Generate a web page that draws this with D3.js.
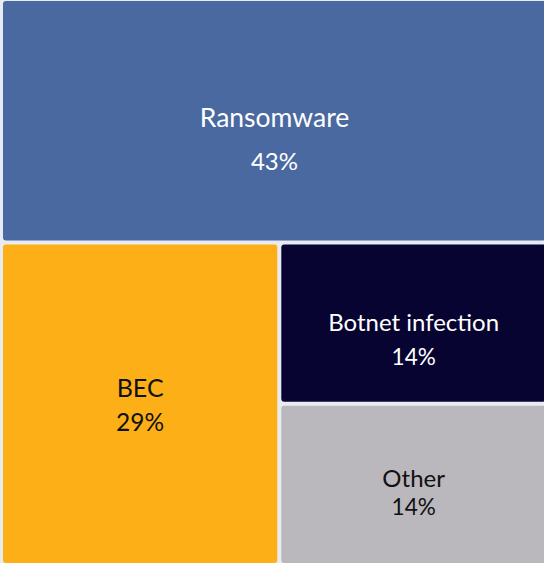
<!DOCTYPE html>
<html>
<head>
<meta charset="utf-8">
<script src="https://cdn.jsdelivr.net/npm/d3@7"></script>
<style>
  body { margin: 0; background: #e8ebf2; }
  svg { display: block; }
</style>
</head>
<body>
<script>
const m = { width: 544, height: 563 }

// share of incidents by type
const categories = ['Ransomware', 'BEC', 'Botnet infection', 'Other']
const values = [43, 29, 14, 14]

const colors = ['#4a69a0', '#fcaf17', '#080431', '#bab8bd']
const textColors = ['#ffffff', '#111111', '#ffffff', '#111111']
// label tweaks: font sizes, label offset, percent offset from tile centre
const labelStyle = [
    { size: 26.5, pctSize: 24, dy1: -3, dy2: 41 },
    { size: 25, pctSize: 24.5, dy1: -15, dy2: 19 },
    { size: 24, pctSize: 22.5, dy1: 0, dy2: 34 },
    { size: 24, pctSize: 22.5, dy1: -6, dy2: 23 }
]

const svg = d3.select('body').append('svg')
    .attr('width', m.width)
    .attr('height', m.height)

svg.append('rect')
    .attr('width', m.width)
    .attr('height', m.height)
    .attr('fill', '#e8ebf2')

const root = d3.hierarchy({
        children: categories.map((c, i) => ({ name: c, value: values[i], idx: i }))
    })
    .sum(d => d.value)

// the chart is cropped a little on the right
d3.treemap()
    .tile(d3.treemapBinary)
    .size([543, 562])
    .paddingInner(4)(root)

const g = svg.append('g')
    .attr('transform', 'translate(3,1)')

const cell = g.selectAll('.cell')
    .data(root.leaves())
    .enter()
    .append('g')
        .attr('class', 'cell')

cell.append('rect')
    .attr('x', d => d.x0)
    .attr('y', d => d.y0)
    .attr('width', d => d.x1 - d.x0)
    .attr('height', d => d.y1 - d.y0)
    .attr('rx', 3)
    .attr('fill', d => colors[d.data.idx])

cell.append('text')
    .attr('x', d => (d.x0 + d.x1) / 2)
    .attr('y', d => (d.y0 + d.y1) / 2 + labelStyle[d.data.idx].dy1)
    .attr('dy', '0.35em')
    .attr('text-anchor', 'middle')
    .attr('font-family', 'Lato, sans-serif')
    .attr('font-size', d => labelStyle[d.data.idx].size)
    .attr('fill', d => textColors[d.data.idx])
    .text(d => d.data.name)

cell.append('text')
    .attr('x', d => (d.x0 + d.x1) / 2)
    .attr('y', d => (d.y0 + d.y1) / 2 + labelStyle[d.data.idx].dy2)
    .attr('dy', '0.35em')
    .attr('text-anchor', 'middle')
    .attr('font-family', 'Lato, sans-serif')
    .attr('font-size', d => labelStyle[d.data.idx].pctSize)
    .attr('fill', d => textColors[d.data.idx])
    .text(d => d.data.value + '%')
</script>
</body>
</html>
